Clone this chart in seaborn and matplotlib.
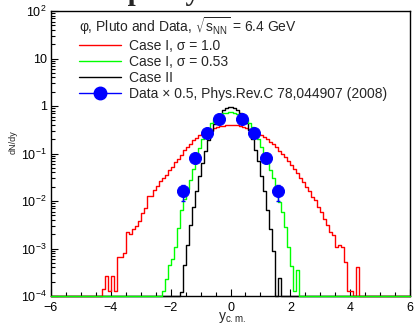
import numpy as np
import matplotlib
matplotlib.use("Agg")
import matplotlib.pyplot as plt
import seaborn as sns
from matplotlib.lines import Line2D
from matplotlib.ticker import LogLocator, MultipleLocator, FuncFormatter, NullFormatter

# binning of the Pluto histograms: 120 bins of 0.1 in y_cm
y_lo, y_hi, n_bins = -6.0, 6.0, 120

# Case I, sigma = 1.0  (bins starting at -4.4)
red_start = -4.4
red_vals = [0, 1.4e-4, 2.6e-4, 1.3e-4, 2.6e-4, 1.3e-4, 6.5e-4, 6.5e-4, 8e-4, 2.2e-3,
            2.0e-3, 2.6e-3, 3.0e-3, 3.8e-3, 5.5e-3, 7.0e-3, 1.3e-2, 1.3e-2, 1.7e-2, 2.1e-2,
            2.6e-2, 3.0e-2, 3.6e-2, 4.4e-2, 5.3e-2, 6.5e-2, 7.8e-2, 9.5e-2, 0.118, 0.135,
            0.16, 0.19, 0.21, 0.24, 0.26, 0.28, 0.30, 0.32, 0.34, 0.36,
            0.375, 0.385, 0.395, 0.40,
            0.40, 0.395, 0.39, 0.38, 0.365, 0.35, 0.33, 0.31, 0.29, 0.26,
            0.24, 0.22, 0.20, 0.175, 0.155, 0.135, 0.115, 0.097, 0.083, 0.070,
            0.058, 0.047, 0.038, 0.031, 0.025, 0.020, 0.016, 0.012, 0.0105, 0.0075,
            0.006, 0.0041, 0.0031, 0.0022, 0.0019, 0.0011, 0.0012, 0.0011, 0.00053, 0.00013,
            0.00013, 0, 0.0004, 0]

# Case I, sigma = 0.53  (bins starting at -2.3)
green_start = -2.3
green_vals = [1.3e-4, 2.3e-4, 4.5e-4, 6e-4, 1.1e-3, 2.7e-3, 6.5e-3, 0.011, 0.018, 0.028,
              0.048, 0.085, 0.13, 0.20, 0.27, 0.33, 0.44, 0.52, 0.59, 0.65,
              0.70, 0.72, 0.73,
              0.73, 0.72, 0.69, 0.65, 0.59, 0.52, 0.44, 0.36, 0.27, 0.20,
              0.14, 0.10, 0.068, 0.045, 0.030, 0.019, 0.0095, 0.0058, 0.0028, 0.0011,
              0.00042, 0.00013, 0.00036, 0]

# Case II  (bins starting at -1.7)
black_start = -1.7
black_vals = [1.2e-4, 4.5e-4, 1.2e-3, 3.2e-3, 7.5e-3, 0.016, 0.033, 0.062, 0.115, 0.19,
              0.30, 0.42, 0.53, 0.68, 0.82, 0.91, 0.96,
              0.96, 0.92, 0.84, 0.72, 0.58, 0.44, 0.31, 0.20, 0.12, 0.068,
              0.034, 0.016, 0.0065, 0.0026, 0.0009, 0, 0.00024, 0]

# NA49 data x 0.5
data_y = [-1.6, -1.2, -0.8, -0.4, 0.4, 0.8, 1.2, 1.6]
data_dndy = [0.016, 0.080, 0.27, 0.52, 0.52, 0.27, 0.082, 0.016]
data_err = [0.006, 0.01, 0.02, 0.03, 0.03, 0.02, 0.01, 0.006]

labels = ["Case I, σ = 1.0", "Case I, σ = 0.53", "Case II",
          "Data × 0.5, Phys.Rev.C 78,044907 (2008)"]

edges = np.linspace(y_lo, y_hi, n_bins + 1)
centers = 0.5 * (edges[:-1] + edges[1:])


def full_hist(start, vals):
    h = np.zeros(n_bins)
    i0 = int(round((start - y_lo) / 0.1))
    h[i0:i0 + len(vals)] = vals
    # empty bins are drawn on the lower frame, like ROOT does
    return np.clip(h, 1e-4, None)


sns.set_style("ticks")
plt.rcParams["font.family"] = ["Liberation Sans", "DejaVu Sans"]
plt.rcParams["mathtext.default"] = "regular"

fig = plt.figure(figsize=(4.18, 3.23), dpi=100)
ax = fig.add_axes([51 / 418, 27 / 323, 359 / 418, 285 / 323])

for start, vals, col in [(red_start, red_vals, "red"),
                         (black_start, black_vals, "black"),
                         (green_start, green_vals, "#00ff00")]:
    sns.histplot(x=centers, weights=full_hist(start, vals), bins=n_bins,
                 binrange=(y_lo, y_hi), element="step", fill=False, color=col,
                 linewidth=1, clip_on=False, zorder=3, ax=ax)

ax.errorbar(data_y, data_dndy, yerr=data_err, fmt="none", ecolor="blue",
            elinewidth=1, capsize=1.5, zorder=4)
sns.scatterplot(x=data_y, y=data_dndy, color="blue", edgecolor="blue", s=75,
                zorder=5, ax=ax)

ax.set_yscale("log")
ax.set_xlim(-6, 6)
ax.set_ylim(1e-4, 100)

ax.xaxis.set_major_locator(MultipleLocator(2))
ax.xaxis.set_minor_locator(MultipleLocator(0.5))
ax.yaxis.set_major_locator(LogLocator(base=10, numticks=10))
ax.yaxis.set_minor_locator(LogLocator(base=10, subs=np.arange(2, 10), numticks=20))
ax.yaxis.set_minor_formatter(NullFormatter())


def log_label(v, pos):
    e = int(round(np.log10(v)))
    if e == 0:
        return "1"
    if e == 1:
        return "10"
    return rf"$10^{{{e}}}$"


ax.yaxis.set_major_formatter(FuncFormatter(log_label))
ax.tick_params(which="both", direction="in", top=False, right=False, width=0.8, colors="black")
ax.tick_params(which="major", length=5, labelsize=9, pad=3)
ax.tick_params(axis="x", which="major", pad=4.5)
ax.tick_params(which="minor", length=2.8)
for sp in ax.spines.values():
    sp.set_color("black")
    sp.set_linewidth(1)

ax.set_ylabel("dN/dy", fontsize=6.5)
ax.yaxis.set_label_coords(-0.092, 0.54)
ax.set_xlabel("$y_{c.m.}$", fontsize=10)
ax.xaxis.set_label_coords(0.505, -0.05)

handles = [Line2D([], [], color="red", lw=1),
           Line2D([], [], color="#00ff00", lw=1),
           Line2D([], [], color="black", lw=1),
           Line2D([], [], color="blue", lw=1, marker="o", ms=9)]
ax.legend(handles, labels, title=r"φ, Pluto and Data, $\sqrt{s_{NN}}$ = 6.4 GeV",
          loc="upper left", bbox_to_anchor=(0.078, 0.985), frameon=False,
          fontsize=10, title_fontsize=10, handlelength=3, handletextpad=0.6,
          labelspacing=0.15, borderaxespad=0, borderpad=0, alignment="left")

# the histogram title is mostly cut off by the top edge in the original
fig.text(223 / 418, 1 - 0.5 / 323, "Rapidity distribution", ha="center", va="baseline",
         fontsize=21, fontweight="bold", family="Liberation Serif")

fig.savefig("out.png", dpi=100)
